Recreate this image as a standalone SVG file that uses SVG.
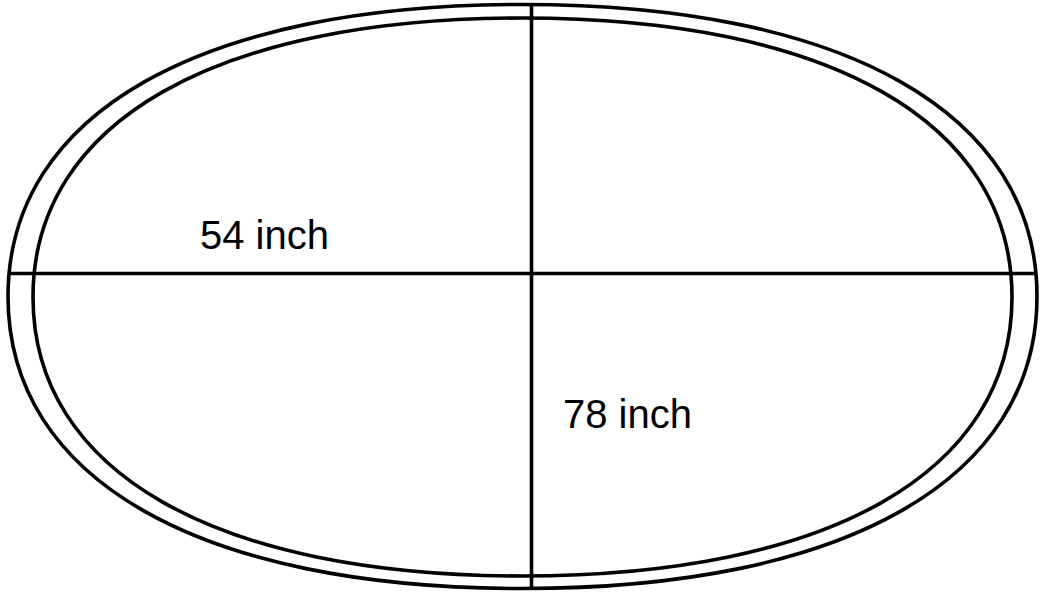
<svg xmlns="http://www.w3.org/2000/svg" width="1042" height="595" viewBox="0 0 1042 595">
<style>
.l{fill:none;stroke:#000;stroke-width:3.6}
.t{font-family:"Liberation Sans",Arial,sans-serif;font-size:40px;fill:#000}
</style>
<rect width="1042" height="595" fill="#fff"/>
<g id="outer-oval"><path class="l" d="M1037,296.5 C1037,479.6 845.1,588.5 522.5,588.5 C199.9,588.5 8,479.6 8,296.5 C8,113.4 199.9,4.5 522.5,4.5 C845.1,4.5 1037,113.4 1037,296.5Z"/></g>
<g id="inner-oval"><path class="l" d="M1012,297 C1012,471.9 829.4,576 522.5,576 C215.6,576 33,471.9 33,297 C33,122.1 215.6,18 522.5,18 C829.4,18 1012,122.1 1012,297Z"/></g>
<g id="connectors">
<line class="l" x1="531.5" y1="4" x2="531.5" y2="589"/>
<line class="l" x1="8" y1="273.5" x2="1036" y2="273.5"/>
</g>
<g id="label-54"><text class="t" x="200" y="249">54 inch</text></g>
<g id="label-78"><text class="t" x="563" y="428">78 inch</text></g>
</svg>
